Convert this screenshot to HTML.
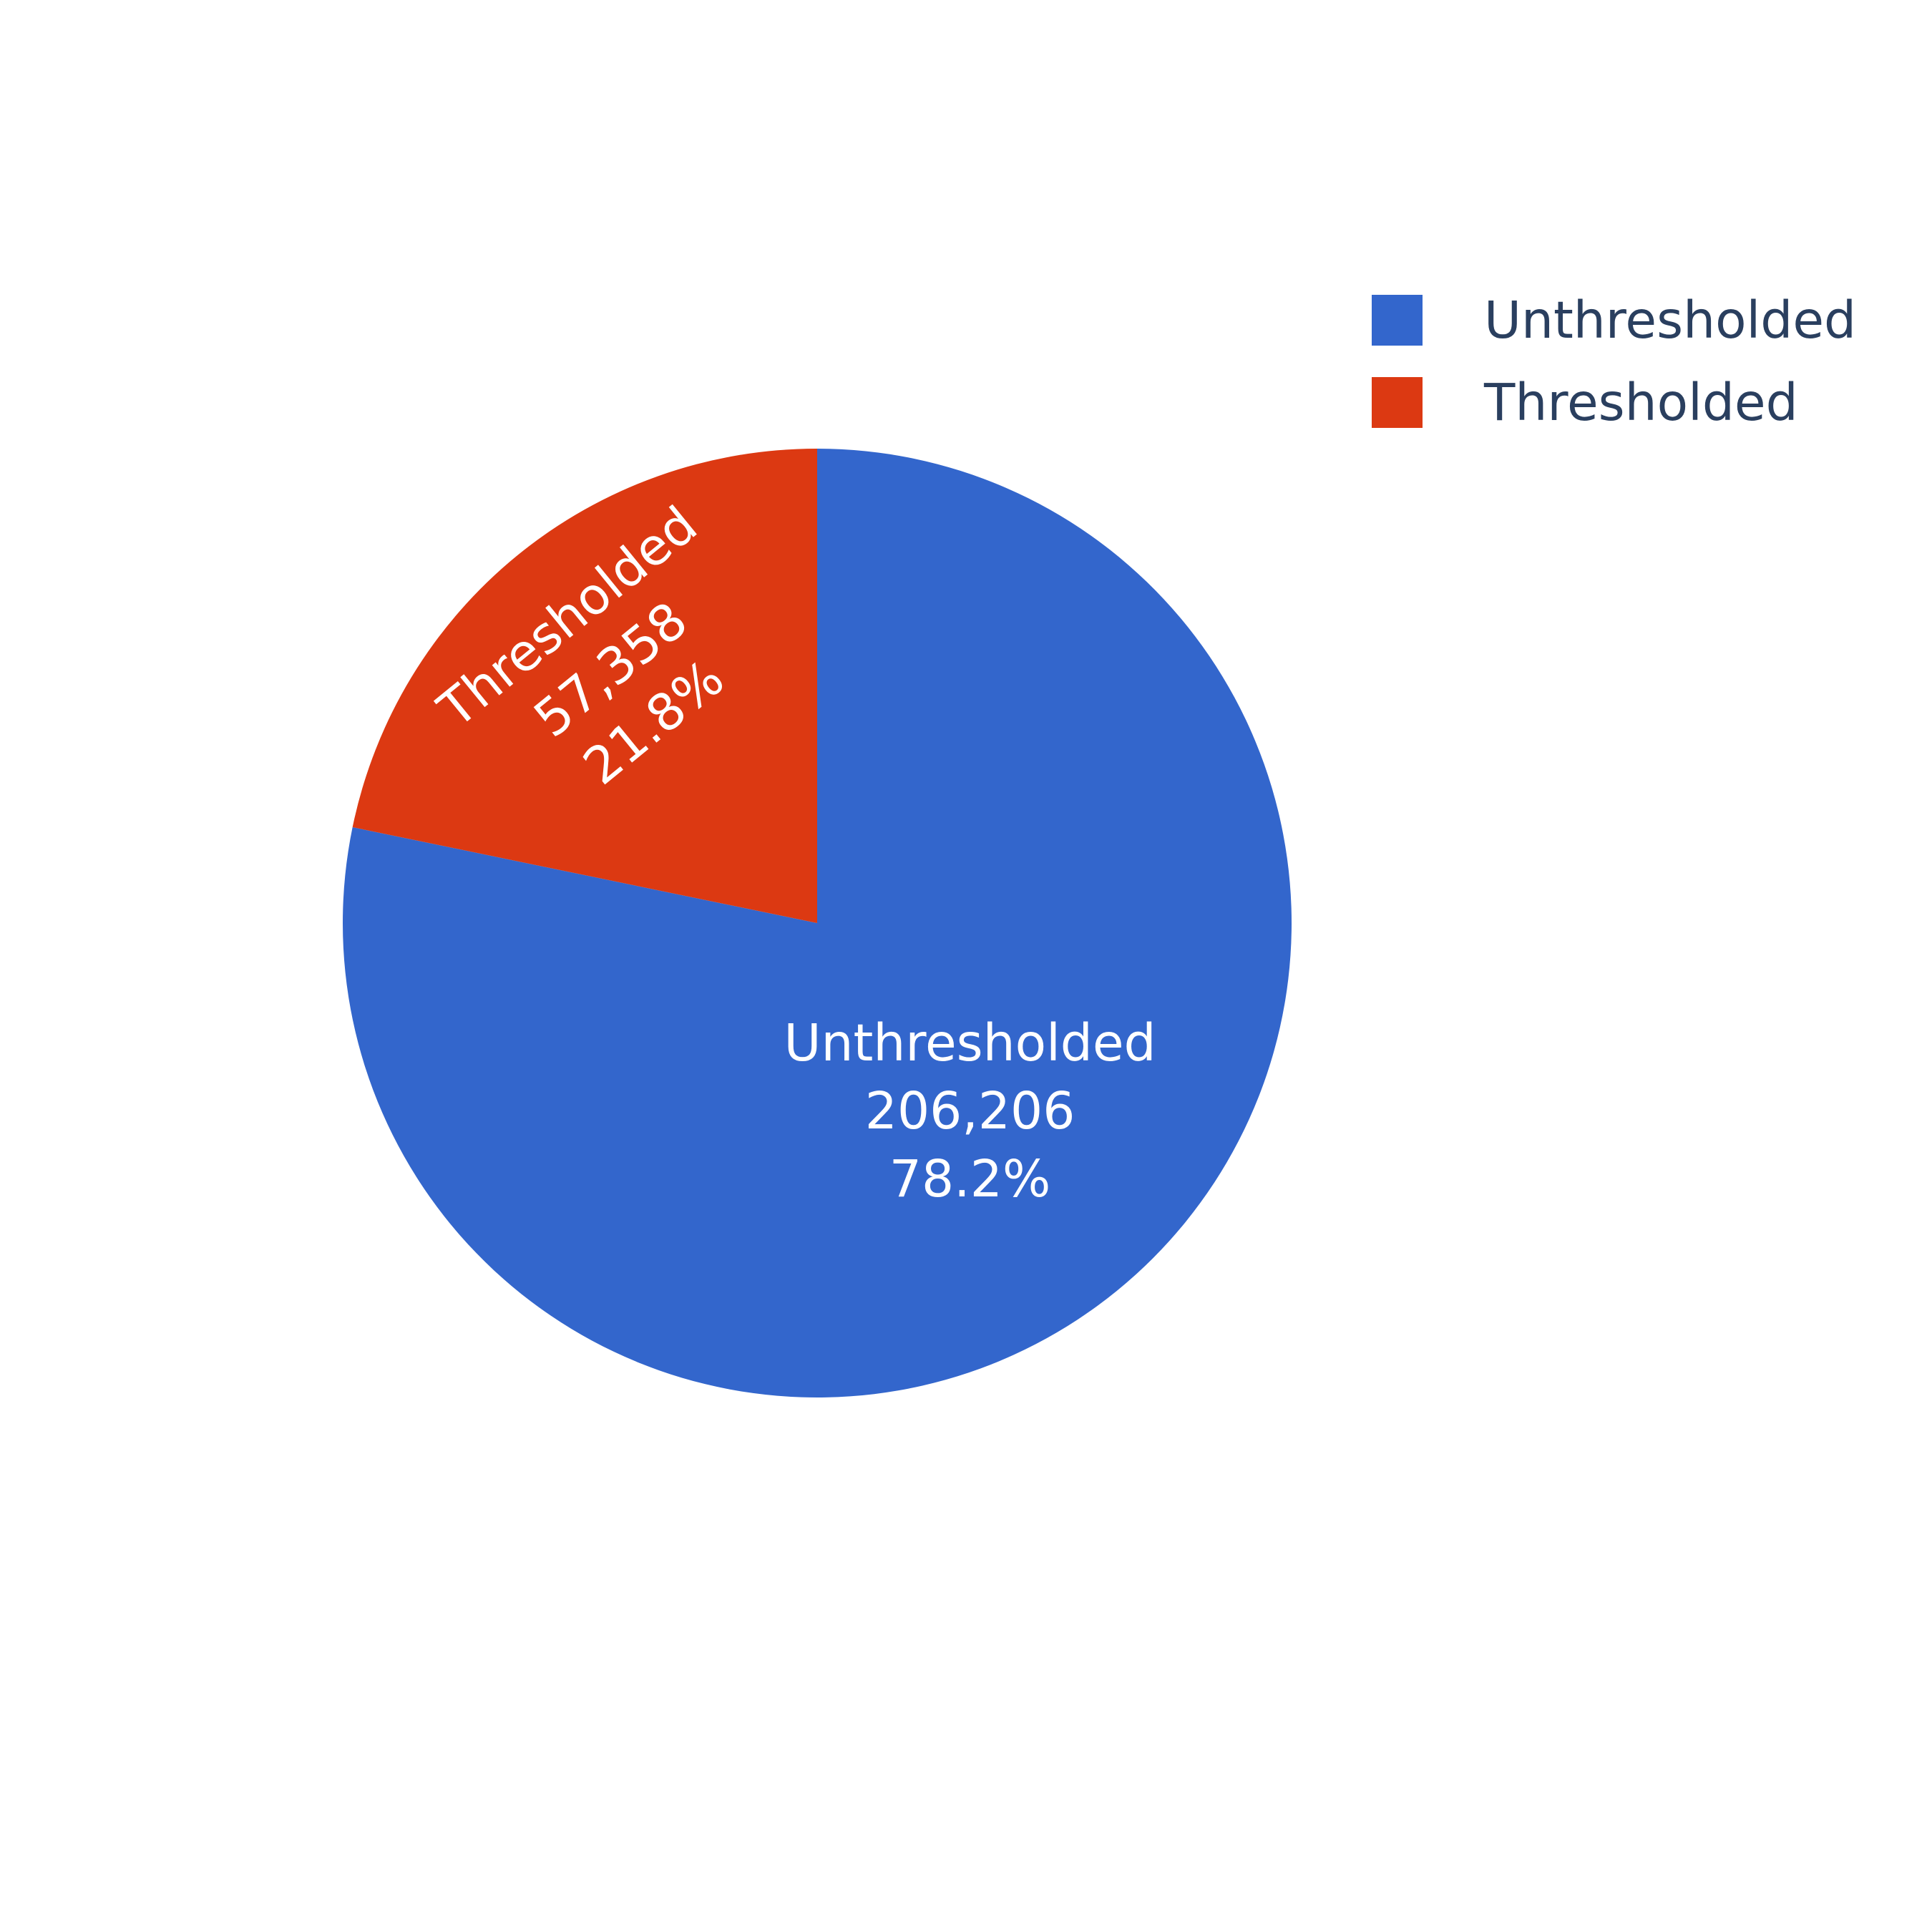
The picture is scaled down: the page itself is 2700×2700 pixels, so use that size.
<!DOCTYPE html>
<html><head><meta charset="utf-8"><style>
html,body{margin:0;padding:0;background:#fff;}
svg{display:block;font-family:"DejaVu Sans","Liberation Sans",sans-serif;}
</style></head><body>
<svg id="chart" width="2700" height="2700" viewBox="0 0 2700 2700">
<g id="slices"></g>
<g id="labels"></g>
<g id="legend"></g>
</svg>
<script>
const categories = ["Unthresholded", "Thresholded"];
const values = [206206, 57358];
const colors = ["#3366CC", "#DC3912"];

const NS = "http://www.w3.org/2000/svg";
const cx = 1142, cy = 1290, r = 663;
const total = values.reduce((a,b)=>a+b,0);
const slices = document.getElementById('slices');
const labels = document.getElementById('labels');
const legend = document.getElementById('legend');
function pt(a, rad){ return [cx + rad*Math.sin(a), cy - rad*Math.cos(a)]; }
let start = 0;
values.forEach((v,i)=>{
  const frac = v/total;
  const end = start + frac*2*Math.PI;
  const p0 = pt(start, r), p1 = pt(end, r);
  const large = frac > 0.5 ? 1 : 0;
  const path = document.createElementNS(NS,'path');
  path.setAttribute('d', `M${cx},${cy} L${p0[0]},${p0[1]} A${r},${r} 0 ${large} 1 ${p1[0]},${p1[1]} Z`);
  path.setAttribute('fill', colors[i]);
  
  
  slices.appendChild(path);

  const mid = (start+end)/2;
  const big = frac > 0.5;
  const c = pt(mid, big ? 0.51*r : 0.69*r);
  const g = document.createElementNS(NS,'g');
  
  
  const rot = big ? 0 : (mid*180/Math.PI - 360);
  g.setAttribute('transform', `translate(${c[0]},${c[1]}) rotate(${rot})`);
  const lines = [categories[i], v.toLocaleString('en-US'), (frac*100).toFixed(1)+'%'];
  lines.forEach((t,j)=>{
    const tx = document.createElementNS(NS,'text');
    tx.setAttribute('x', 0);
    tx.setAttribute('y', (j-1)*95 + 25);
    tx.setAttribute('text-anchor','middle');
    tx.setAttribute('font-size','71');
    tx.setAttribute('fill','#fff');
    
    
    tx.textContent = t;
    g.appendChild(tx);
  });
  labels.appendChild(g);

  const ly = 412 + i*115;
  const rect = document.createElementNS(NS,'rect');
  rect.setAttribute('x', 1917); rect.setAttribute('y', ly);
  rect.setAttribute('width', 71); rect.setAttribute('height', 71);
  rect.setAttribute('fill', colors[i]);
  
  
  legend.appendChild(rect);
  const lt = document.createElementNS(NS,'text');
  lt.setAttribute('x', 2074); lt.setAttribute('y', ly + 60);
  lt.setAttribute('font-size','71');
  lt.setAttribute('fill','#2a3f5f');
  
  
  lt.textContent = categories[i];
  legend.appendChild(lt);
  start = end;
});
</script>
</body></html>
